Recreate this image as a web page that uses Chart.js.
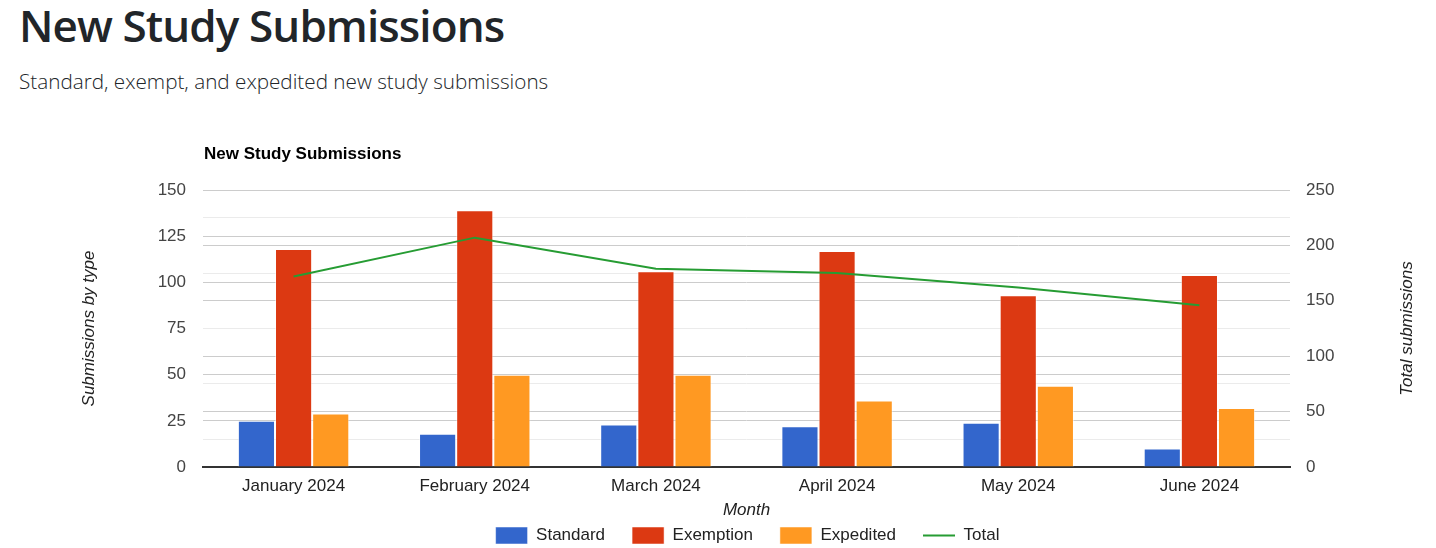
<!DOCTYPE html>
<html>
<head>
<meta charset="utf-8">
<title>New Study Submissions</title>
<script src="https://cdn.jsdelivr.net/npm/chart.js@4.4.1/dist/chart.umd.min.js"></script>
<style>
  html, body { margin: 0; padding: 0; background: #fff; width: 1436px; height: 548px; overflow: hidden; }
  h1 {
    position: absolute; left: 19px; top: 3px; margin: 0;
    font-family: 'Open Sans', sans-serif; font-weight: 600; font-size: 44px;
    line-height: 1; letter-spacing: -0.9px; color: #212529;
  }
  .subtitle {
    position: absolute; left: 19px; top: 71px; margin: 0;
    font-family: 'Open Sans', sans-serif; font-weight: 300; font-size: 20.7px;
    line-height: 1; color: #212529;
  }
  #chart { position: absolute; left: 0; top: 130px; }
</style>
</head>
<body>
<h1>New Study Submissions</h1>
<p class="subtitle">Standard, exempt, and expedited new study submissions</p>
<canvas id="chart" width="1436" height="424"></canvas>
<script>
// Daten
const months = ['January 2024', 'February 2024', 'March 2024', 'April 2024', 'May 2024', 'June 2024'];
const standard = [25, 18, 23, 22, 24, 10];
const exemption = [118, 139, 106, 117, 93, 104];
const expedited = [29, 50, 50, 36, 44, 32];
const total = [172, 207, 179, 175, 162, 146];

const FONT = "'Liberation Sans', Arial, sans-serif";
Chart.defaults.font.family = FONT;
Chart.defaults.font.size = 17;

// Diagrammtitel + rechter Achsentitel (von unten nach oben lesbar)
const extraText = {
    id: 'extraText',
    afterDraw(chart) {
        const { ctx, chartArea } = chart;
        ctx.save();
        ctx.fillStyle = '#000';
        ctx.font = `bold 17px ${FONT}`;
        ctx.textAlign = 'left';
        ctx.textBaseline = 'middle';
        ctx.fillText('New Study Submissions', chartArea.left + 1, 24);

        ctx.fillStyle = '#222';
        ctx.font = `italic 17px ${FONT}`;
        ctx.translate(1407, (chartArea.top + chartArea.bottom) / 2);
        ctx.rotate(-Math.PI / 2);
        ctx.textAlign = 'center';
        ctx.fillText('Total submissions', 0, 0);
        ctx.restore();
    }
};

const barCommon = {
    borderColor: 'rgba(255,255,255,0.5)',
    borderWidth: 1,
    categoryPercentage: 0.615,
    barPercentage: 1,
    pointStyle: 'rect',
    yAxisID: 'y',
    order: 1
};

new Chart(document.getElementById('chart').getContext('2d'), {
    type: 'bar',
    data: {
        labels: months,
        datasets: [
            { ...barCommon, label: 'Standard', data: standard, backgroundColor: '#3366cc' },
            { ...barCommon, label: 'Exemption', data: exemption, backgroundColor: '#dc3912' },
            { ...barCommon, label: 'Expedited', data: expedited, backgroundColor: '#ff9922' },
            {
                type: 'line', label: 'Total', data: total, yAxisID: 'y1', order: 0,
                borderColor: '#269c33', backgroundColor: '#269c33', borderWidth: 2,
                pointRadius: 0, pointHoverRadius: 0, pointStyle: 'line', fill: false, tension: 0
            }
        ]
    },
    options: {
        responsive: false,
        animation: false,
        layout: { padding: { left: 79, right: 20, top: 60, bottom: 0 } },
        plugins: {
            tooltip: { enabled: false },
            legend: {
                position: 'bottom',
                labels: {
                    usePointStyle: true, pointStyleWidth: 32, padding: 27,
                    color: '#222', font: { size: 17 },
                    sort: (a, b) => a.datasetIndex - b.datasetIndex
                }
            }
        },
        scales: {
            x: {
                grid: { display: false, drawTicks: false },
                border: { display: true, color: '#333', width: 2 },
                ticks: { color: '#222', padding: 9, maxRotation: 0 },
                title: { display: true, text: 'Month', color: '#222', font: { style: 'italic', size: 17 }, padding: { top: 0, bottom: -20 } },
                afterFit: s => { s.height = 33; }
            },
            y: {
                position: 'left', min: 0, max: 150,
                ticks: { stepSize: 25, color: '#444', padding: 17 },
                grid: { color: '#cccccc', drawTicks: false },
                border: { display: false },
                title: { display: true, text: 'Submissions by type', color: '#222', font: { style: 'italic', size: 17 }, padding: 0 },
                afterFit: s => { s.width = 124; }
            },
            y1: {
                position: 'right', min: 0, max: 250,
                ticks: { stepSize: 25, color: '#444', padding: 16, callback: v => (v % 50 === 0 ? v : '') },
                grid: { drawTicks: false, color: c => (c.tick && c.tick.value % 50 === 0 ? '#cccccc' : '#ebebeb') },
                border: { display: false },
                afterFit: s => { s.width = 126; }
            }
        }
    },
    plugins: [extraText]
});
</script>
</body>
</html>
